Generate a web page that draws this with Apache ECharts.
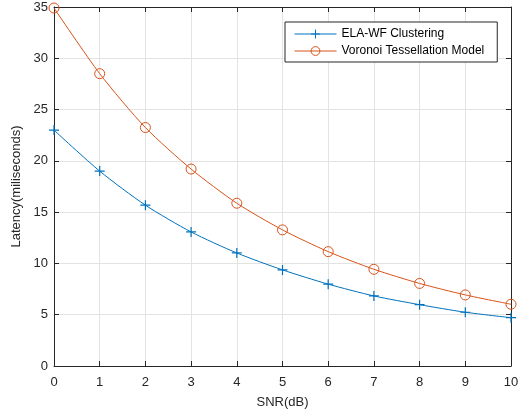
<!DOCTYPE html>
<html>
<head>
<meta charset="utf-8">
<script src="https://cdn.jsdelivr.net/npm/echarts@6/dist/echarts.min.js"></script>
<style>html,body{margin:0;padding:0;background:#fff}#c{width:529px;height:414px}</style>
</head>
<body>
<div id="c"></div>
<script>
var snr = [0, 1, 2, 3, 4, 5, 6, 7, 8, 9, 10];
var elaWf = [23.0, 19.0, 15.68, 13.07, 11.02, 9.37, 7.98, 6.83, 5.98, 5.24, 4.71];
var voronoi = [34.9, 28.5, 23.25, 19.2, 15.87, 13.27, 11.15, 9.43, 8.05, 6.93, 6.02];
var seriesNames = ['ELA-WF Clustering', 'Voronoi Tessellation Model'];
var xTitle = 'SNR(dB)';
var yTitle = 'Latency(miliseconds)';

var FONT = '"Liberation Sans", Arial, Helvetica, sans-serif';
var AX = '#262626';
var chart = echarts.init(document.getElementById('c'), null, {renderer: 'canvas'});
function pairs(ys) { return snr.map(function (x, i) { return [x, ys[i]]; }); }
var plusPath = 'path://M5,0 L5,10 M0,5 L10,5';
var baseAxis = {
  axisLine: {show: true, onZero: false, lineStyle: {color: AX, width: 1}},
  axisTick: {show: true, inside: true, length: 5, lineStyle: {color: AX}},
  axisLabel: {show: false},
  splitLine: {show: false}
};
chart.setOption({
  animation: false,
  backgroundColor: '#fff',
  grid: {left: 54, right: 18, top: 7, bottom: 47, containLabel: false},
  legend: {
    left: 285, top: 22, orient: 'vertical',
    itemWidth: 42, itemHeight: 11, itemGap: 5,
    padding: [6, 13, 5, 9],
    borderColor: AX, borderWidth: 1, backgroundColor: '#fff',
    lineStyle: {width: 1},
    itemStyle: {borderWidth: 1},
    textStyle: {fontFamily: FONT, fontSize: 12, color: '#000'},
    data: seriesNames
  },
  xAxis: [
    Object.assign({}, baseAxis, {
      type: 'value', min: 0, max: 10, interval: 1, position: 'bottom',
      name: xTitle, nameLocation: 'middle', nameGap: 30,
      nameTextStyle: {fontFamily: FONT, fontSize: 13, color: AX},
      axisLabel: {show: true, fontFamily: FONT, fontSize: 13, color: AX, margin: 10},
      splitLine: {show: true, lineStyle: {color: '#e3e3e3', width: 1}}
    }),
    Object.assign({}, baseAxis, {type: 'value', min: 0, max: 10, interval: 1, position: 'top'})
  ],
  yAxis: [
    Object.assign({}, baseAxis, {
      type: 'value', min: 0, max: 35, interval: 5, position: 'left',
      name: yTitle, nameLocation: 'middle', nameGap: 25, nameRotate: 90,
      nameTextStyle: {fontFamily: FONT, fontSize: 13, color: AX},
      axisLabel: {show: true, fontFamily: FONT, fontSize: 13, color: AX, margin: 6},
      splitLine: {show: true, lineStyle: {color: '#e3e3e3', width: 1}}
    }),
    Object.assign({}, baseAxis, {type: 'value', min: 0, max: 35, interval: 5, position: 'right'})
  ],
  series: [
    {
      name: seriesNames[0], type: 'line', data: pairs(elaWf), smooth: 0.25,
      color: '#0072BD',
      symbol: plusPath, symbolSize: 10, showSymbol: true,
      lineStyle: {color: '#0072BD', width: 1},
      itemStyle: {color: '#0072BD', borderColor: '#0072BD', borderWidth: 1.2}
    },
    {
      name: seriesNames[1], type: 'line', data: pairs(voronoi), smooth: 0.25,
      color: '#D95319',
      symbol: 'circle', symbolSize: 10, showSymbol: true,
      lineStyle: {color: '#D95319', width: 1},
      itemStyle: {color: 'rgba(255,255,255,0)', borderColor: '#D95319', borderWidth: 1}
    }
  ]
});
</script>
</body>
</html>
